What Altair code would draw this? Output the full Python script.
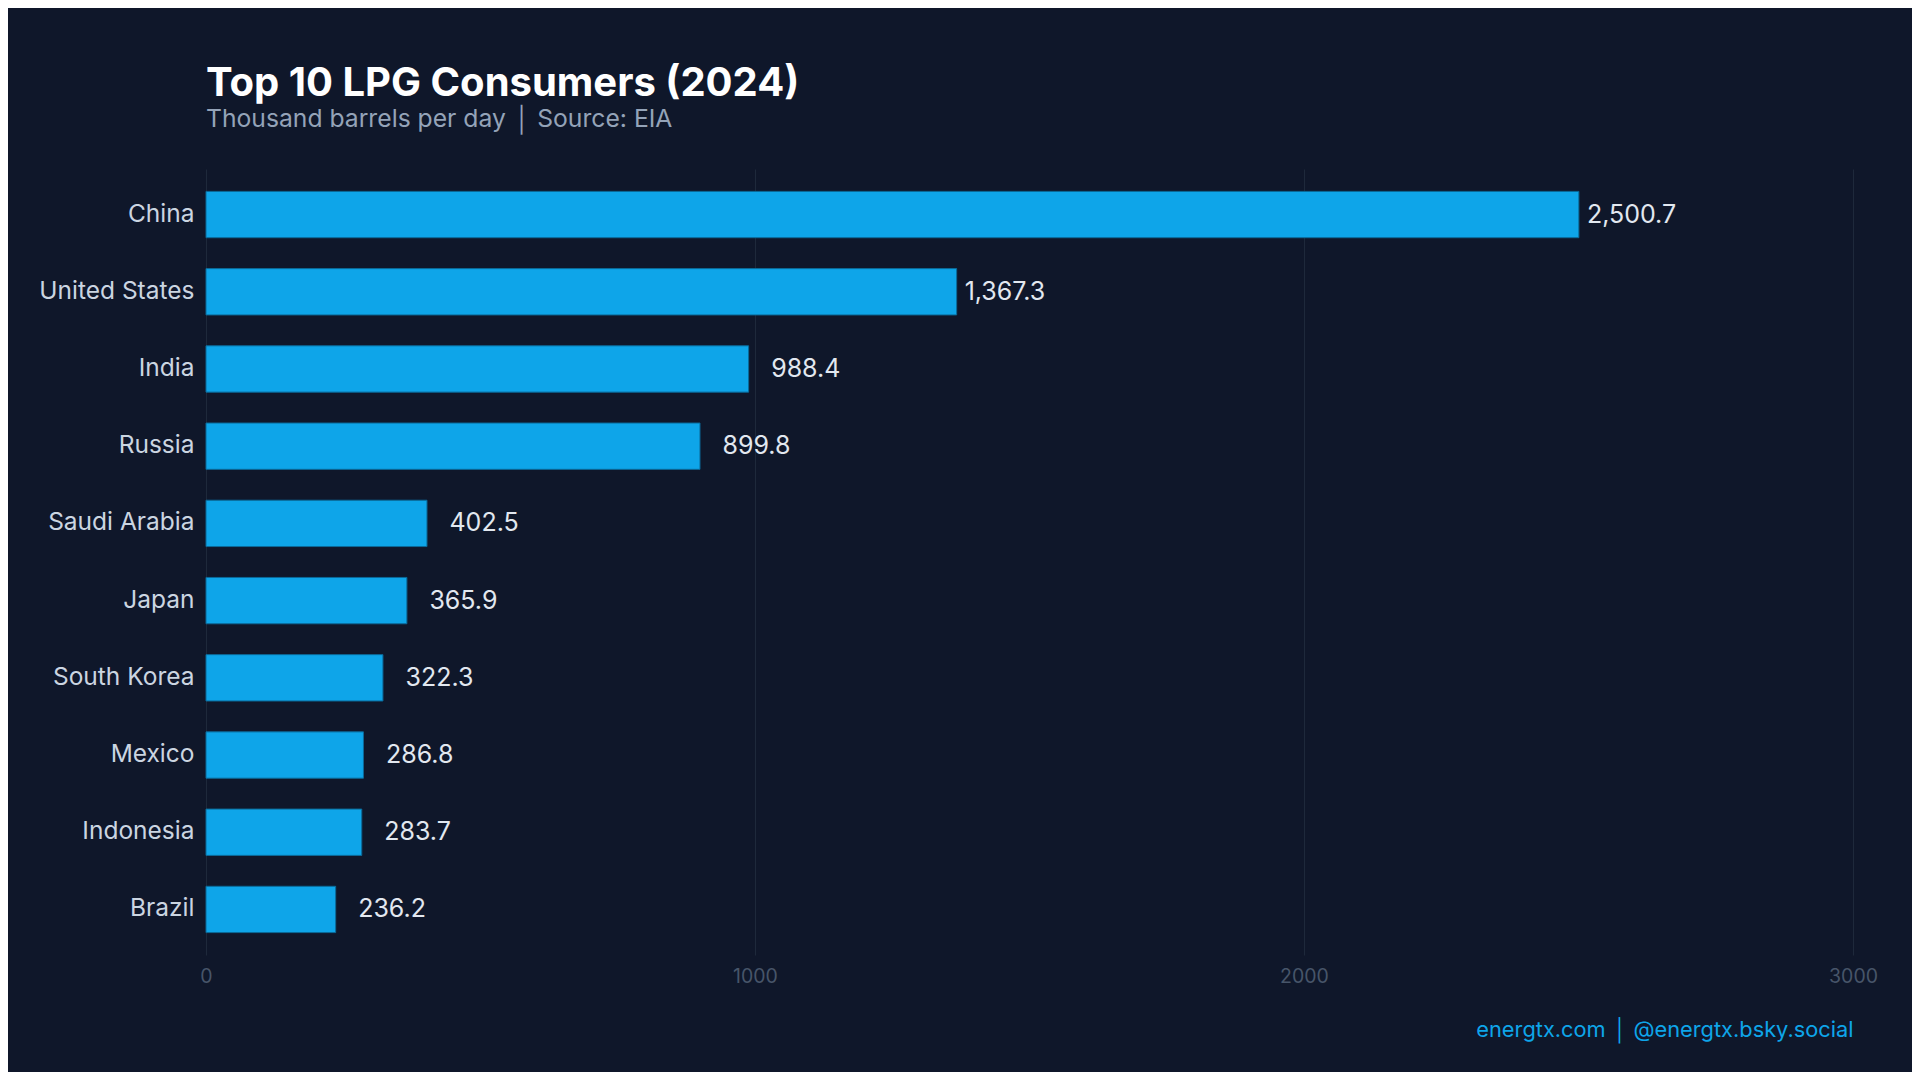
import altair as alt
import pandas as pd

countries = ["China", "United States", "India", "Russia", "Saudi Arabia",
             "Japan", "South Korea", "Mexico", "Indonesia", "Brazil"]
values = [2500.7, 1367.3, 988.4, 899.8, 402.5, 365.9, 322.3, 286.8, 283.7, 236.2]
x_ticks = [0, 1000, 2000, 3000]

df = pd.DataFrame({"country": countries, "value": values})

FONT = "Inter"
BG = "#0f172a"
BLUE = "#0ea5e9"

y_enc = alt.Y(
    "country:N",
    sort=countries,
    scale=alt.Scale(paddingInner=0.4, paddingOuter=0.29),
    axis=alt.Axis(
        title=None, ticks=False, domain=False, grid=False,
        labelFont=FONT, labelFontSize=24.5, labelColor="#cbd5e1",
        labelPadding=12,
    ),
)

x_enc = alt.X(
    "value:Q",
    scale=alt.Scale(domain=[0, 3000], nice=False),
    axis=alt.Axis(
        values=x_ticks, format="d",
        title="energtx.com  │  @energtx.bsky.social",
        titleFont=FONT, titleFontSize=21.8, titleFontWeight="normal",
        titleColor=BLUE, titleAnchor="end", titlePadding=34,
        labelFont=FONT, labelFontSize=19.5, labelColor="#475569",
        labelPadding=12, labelFlush=False, ticks=False, domain=False,
        grid=True, gridColor="#1e293b", gridWidth=1,
    ),
)

bars = alt.Chart(df).mark_bar(color=BLUE, stroke="#0b6a99", strokeWidth=1).encode(
    x=x_enc, y=y_enc
)


def value_labels(cond, dx):
    return alt.Chart(df).transform_filter(cond).mark_text(
        align="left", baseline="middle", dx=dx,
        font=FONT, fontSize=25, color="#e2e8f0",
    ).encode(
        x=alt.X("value:Q"),
        y=alt.Y("country:N", sort=countries),
        text=alt.Text("value:Q", format=",.1f"),
    )


labels_big = value_labels(alt.datum.value >= 1000, 8)
labels_small = value_labels(alt.datum.value < 1000, 22.5)

chart = (
    alt.layer(bars, labels_big, labels_small)
    .properties(
        width=1647,
        height=786,
        background=BG,
        padding={"left": 198, "top": 161, "right": 59, "bottom": 117},
        autosize=alt.AutoSizeParams(type="none"),
        title=alt.TitleParams(
            text="Top 10 LPG Consumers (2024)",
            subtitle="Thousand barrels per day  │  Source: EIA",
            anchor="start", frame="group",
            font=FONT, fontSize=40, fontWeight="bold", color="#ffffff",
            subtitleFont=FONT, subtitleFontSize=24.7, subtitleColor="#94a3b8",
            subtitlePadding=3, offset=37.5,
        ),
    )
    .configure_view(stroke=None)
)

chart.save("out.html", embed_options={"renderer": "svg", "actions": False})
